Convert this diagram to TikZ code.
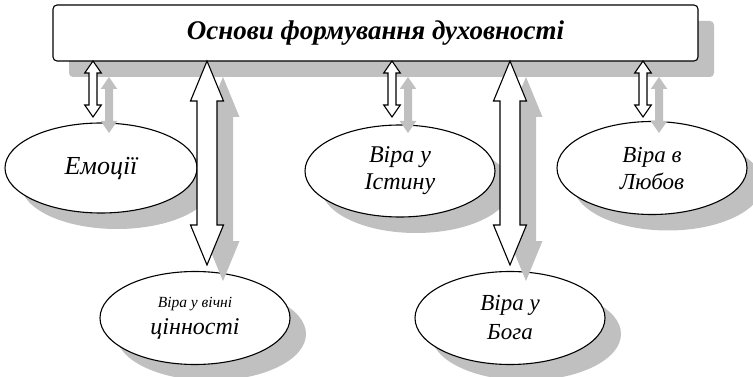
\documentclass[tikz,border=0pt]{standalone}
\usepackage{fontspec}
\setmainfont{Liberation Serif}
\usetikzlibrary{calc,shapes.geometric,shadows}
\definecolor{shade}{RGB}{192,192,192}
\newcommand\fatarrow[6]{%
  \path[#1] let \p1=(#2), \p2=(#3) in
   (\x1,\y1) -- (\x1+#5,\y1-#6) -- (\x1+#4,\y1-#6) -- (\x1+#4,\y2+#6) -- (\x1+#5,\y2+#6)
   -- (\x1,\y2) -- (\x1-#5,\y2+#6) -- (\x1-#4,\y2+#6) -- (\x1-#4,\y1-#6) -- (\x1-#5,\y1-#6) -- cycle;}
\tikzset{
  myshadow/.style={drop shadow={shadow xshift=16pt, shadow yshift=-16pt, fill=shade, opacity=1}},
  titlebox/.style={draw, line width=1.1pt, fill=white, rounded corners=4pt, minimum width=645pt, minimum height=56pt, inner sep=0pt, myshadow},
  oval/.style={ellipse, draw, line width=1.1pt, fill=white, inner sep=0pt, align=center, myshadow},
  arrowbody/.style={draw, line width=1.1pt, fill=white, line join=miter},
  arrowshade/.style={fill=shade},
}
\begin{document}
\begin{tikzpicture}[x=1pt,y=-1pt]
\useasboundingbox (0,0) rectangle (753,377);
\node[titlebox, font=\rmfamily\bfseries\itshape\fontsize{27}{30}\selectfont] (box) at (375.5,33) {Основи формування духовності};
\node[oval, minimum width=192pt, minimum height=90pt, font=\rmfamily\itshape\fontsize{26}{30}\selectfont] (emo) at (101,168) {Емоції};
\node[oval, minimum width=190pt, minimum height=92pt, font=\rmfamily\itshape\fontsize{24}{27}\selectfont] (ist) at (400,171) {Віра у\\Істину};
\node[oval, minimum width=190pt, minimum height=93pt, font=\rmfamily\itshape\fontsize{23}{27}\selectfont] (lub) at (652,168) {Віра в\\Любов};
\node[oval, minimum width=190pt, minimum height=93pt, font=\rmfamily\itshape\fontsize{24}{27}\selectfont] (vich) at (195,318) {{\fontsize{15.5}{18}\selectfont Віра у вічні}\\цінності};
\node[oval, minimum width=190pt, minimum height=93pt, font=\rmfamily\itshape\fontsize{23}{29}\selectfont] (bog) at (510,318) {Віра у\\Бога};
% connector end points
\coordinate (t1) at (93,61);  \coordinate (b1) at (93,117);
\coordinate (t2) at (207,61); \coordinate (b2) at (207,265);
\coordinate (t3) at (392,61); \coordinate (b3) at (392,117);
\coordinate (t4) at (510,61); \coordinate (b4) at (510,265);
\coordinate (t5) at (643,61); \coordinate (b5) at (643,117);
% arrow shadows
\begin{scope}[transform canvas={shift={(16pt,-16pt)}}]
\fatarrow{arrowshade}{t1}{b1}{4pt}{8.3pt}{12pt}
\fatarrow{arrowshade}{t2}{b2}{10pt}{16.5pt}{40pt}
\fatarrow{arrowshade}{t3}{b3}{4pt}{8.3pt}{12pt}
\fatarrow{arrowshade}{t4}{b4}{10pt}{16.5pt}{40pt}
\fatarrow{arrowshade}{t5}{b5}{4pt}{8.3pt}{12pt}
\end{scope}
% arrows
\fatarrow{arrowbody}{t1}{b1}{4pt}{8.3pt}{12pt}
\fatarrow{arrowbody}{t2}{b2}{10pt}{16.5pt}{40pt}
\fatarrow{arrowbody}{t3}{b3}{4pt}{8.3pt}{12pt}
\fatarrow{arrowbody}{t4}{b4}{10pt}{16.5pt}{40pt}
\fatarrow{arrowbody}{t5}{b5}{4pt}{8.3pt}{12pt}
\end{tikzpicture}
\end{document}
